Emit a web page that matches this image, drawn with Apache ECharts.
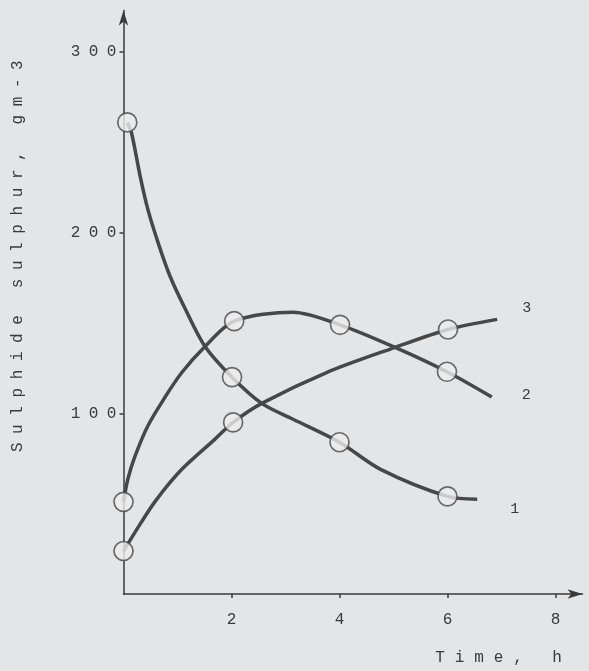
<!DOCTYPE html>
<html>
<head>
<meta charset="utf-8">
<script src="https://cdn.jsdelivr.net/npm/echarts@6/dist/echarts.min.js"></script>
<style>
html, body { margin: 0; background: #e4e5e7; }
#chart { width: 589px; height: 671px; }
</style>
</head>
<body>
<div id="chart"></div>
<script>
// Curves: [time h, sulphide sulphur g/m3]
const curve1Line = [[0.07, 261], [0.15, 255], [0.31, 231], [0.45, 213], [0.64, 194.5], [0.86, 176],
    [1.14, 158], [1.51, 137], [2.01, 120], [2.56, 105.5], [3.14, 96.7], [4.0, 84], [4.76, 69],
    [6.0, 54], [6.55, 52.5]]
const curve2Line = [[0, 51], [0.08, 63.5], [0.21, 76], [0.45, 93], [0.77, 109], [1.08, 122.6],
    [1.51, 137], [2.05, 151], [3.14, 156], [4.01, 149], [5.03, 136.5], [5.99, 123], [6.82, 109]]
const curve3Line = [[0, 23.8], [0.21, 34], [0.58, 51], [1.08, 69], [1.69, 85.6], [2.03, 95],
    [2.56, 105.5], [3.77, 122.7], [5.03, 136.5], [6.01, 146.4], [6.92, 152]]

// Measured points (circles)
const curve1Points = [[0.07, 261], [2.01, 120], [4.0, 84], [6.0, 54]]
const curve2Points = [[0, 51], [2.05, 151], [4.01, 149], [5.99, 123]]
const curve3Points = [[0, 23.8], [2.03, 95], [6.01, 146.4]]

const curveNames = ['1', '2', '3']
const xTicks = [2, 4, 6, 8]
const yTicks = [100, 200, 300]

const ink = '#3a3a3a'
const lineInk = '#474747'
const font = '"Liberation Mono", "DejaVu Sans Mono", monospace'

// typewriter look: every character sits in a wide box of its own
const spaced = (text, key) => text.split('').map(c => '{' + key + '|' + c + '}').join('')

const richFor = (key, w, size) => ({
    [key]: { width: w, align: 'center', fontFamily: font, fontSize: size, color: ink }
})

const chart = echarts.init(document.getElementById('chart'))

const lineSeries = (name, data, offset) => ({
    name: name,
    type: 'line',
    data: data,
    smooth: 0.3,
    showSymbol: false,
    symbol: 'none',
    clip: false,
    lineStyle: { color: lineInk, width: 3.5 },
    endLabel: {
        show: true,
        formatter: name,
        distance: 0,
        offset: offset,
        fontFamily: font,
        fontSize: 15,
        color: ink
    },
    z: 2
})

const pointSeries = (data) => ({
    type: 'scatter',
    data: data,
    symbol: 'circle',
    symbolSize: 19,
    clip: false,
    itemStyle: { color: '#ececec', borderColor: '#4a4a4a', borderWidth: 1.7 },
    z: 3
})

const option = {
    backgroundColor: '#e4e5e7',
    animation: false,
    grid: { left: 123.5, right: 6.5, top: 10.4, bottom: 76 },
    xAxis: {
        type: 'value',
        min: 0,
        max: 8.5,
        interval: 2,
        name: spaced('Time, h', 'n'),
        nameLocation: 'middle',
        nameGap: 56,
        nameTextStyle: { padding: [0, 0, 0, 291], rich: richFor('n', 19.5, 16) },
        axisLine: { show: true, symbol: ['none', 'arrow'], symbolSize: [7, 15], lineStyle: { color: ink, width: 1.5 } },
        axisTick: { show: true, inside: false, length: 4, lineStyle: { color: ink, width: 1.5 } },
        splitLine: { show: false },
        axisLabel: {
            margin: 18,
            showMinLabel: false,
            showMaxLabel: false,
            formatter: v => xTicks.includes(v) ? spaced(String(v), 'd') : '',
            rich: richFor('d', 18, 16)
        }
    },
    yAxis: {
        type: 'value',
        min: 0,
        max: 323,
        interval: 100,
        name: spaced('Sulphide sulphur, gm-3', 'n'),
        nameLocation: 'middle',
        nameRotate: 90,
        nameGap: 98,
        nameTextStyle: { padding: [0, 0, 0, 92], rich: richFor('n', 18.2, 16) },
        axisLine: { show: true, symbol: ['none', 'arrow'], symbolSize: [7, 15], lineStyle: { color: ink, width: 1.5 } },
        axisTick: { show: true, inside: false, length: 4, lineStyle: { color: ink, width: 1.5 } },
        splitLine: { show: false },
        axisLabel: {
            margin: 3,
            showMinLabel: false,
            showMaxLabel: false,
            formatter: v => yTicks.includes(v) ? spaced(String(v), 'd') : '',
            rich: richFor('d', 18, 16)
        }
    },
    series: [
        lineSeries(curveNames[0], curve1Line, [33, 10]),
        lineSeries(curveNames[1], curve2Line, [30, -2]),
        lineSeries(curveNames[2], curve3Line, [25, -11]),
        pointSeries(curve1Points),
        pointSeries(curve2Points),
        pointSeries(curve3Points)
    ]
}

chart.setOption(option)
</script>
</body>
</html>
